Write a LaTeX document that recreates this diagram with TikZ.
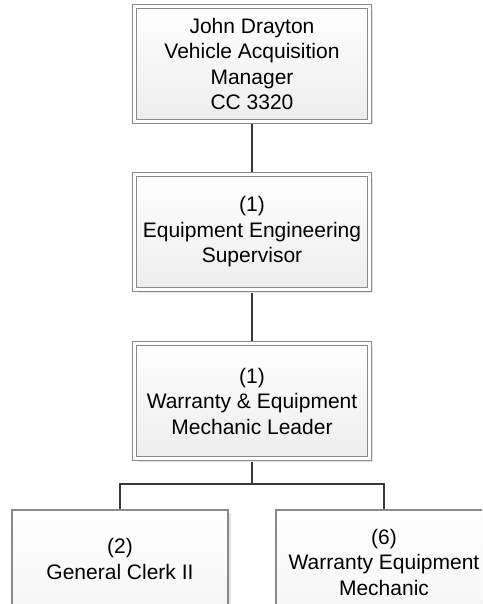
\documentclass[tikz,border=0pt]{standalone}
\usepackage{fontspec}
\setmainfont{Liberation Sans}
\usetikzlibrary{shadows,backgrounds}
\definecolor{bordergray}{HTML}{8A8A8A}
\definecolor{conngray}{HTML}{383838}
\definecolor{shadowgray}{HTML}{E4E4E4}
\tikzset{
  orgtext/.style={font=\fontsize{21}{25.5}\selectfont, align=center, text=black},
  mainbox/.style={orgtext, rectangle, inner sep=0pt,
    minimum width=235pt, minimum height=115pt,
    draw=bordergray, line width=1pt, double=white, double distance=3pt,
    top color=white, bottom color=gray!14,
    drop shadow={shadow xshift=3pt, shadow yshift=-3pt, fill=shadowgray, opacity=1}},
  leafbox/.style={orgtext, rectangle, inner sep=0pt,
    minimum width=216pt, minimum height=136pt,
    draw=bordergray, line width=1.2pt,
    top color=white, bottom color=gray!10,
    drop shadow={shadow xshift=3pt, shadow yshift=-3pt, fill=shadowgray, opacity=1}},
  conn/.style={draw=conngray, line width=2.7pt}
}
\begin{document}
\begin{tikzpicture}[x=1pt, y=-1pt]
\useasboundingbox (0,0) rectangle (482,604);
\clip (0,0) rectangle (482,604);
\node[mainbox] (b1) at (252,64) {John Drayton\\Vehicle Acquisition\\Manager\\CC 3320};
\node[mainbox] (b2) at (252,232) {(1)\\Equipment Engineering\\Supervisor};
\node[mainbox] (b3) at (252,401) {(1)\\Warranty \& Equipment\\Mechanic Leader};
\node[leafbox] (bl) at (120,578) {(2)\\General Clerk II\\[13pt]};
\node[leafbox] (br) at (384,578) {(6)\\Warranty Equipment\\Mechanic\\[6pt]};
\coordinate (bus) at (252,484);
\begin{scope}[on background layer]
\draw[conn] (b1.south) -- (b2.north);
\draw[conn] (b2.south) -- (b3.north);
\draw[conn] (b3.south) -- (bus);
\draw[conn] (bl.north) |- (bus) -| (br.north);
\end{scope}
\end{tikzpicture}
\end{document}
